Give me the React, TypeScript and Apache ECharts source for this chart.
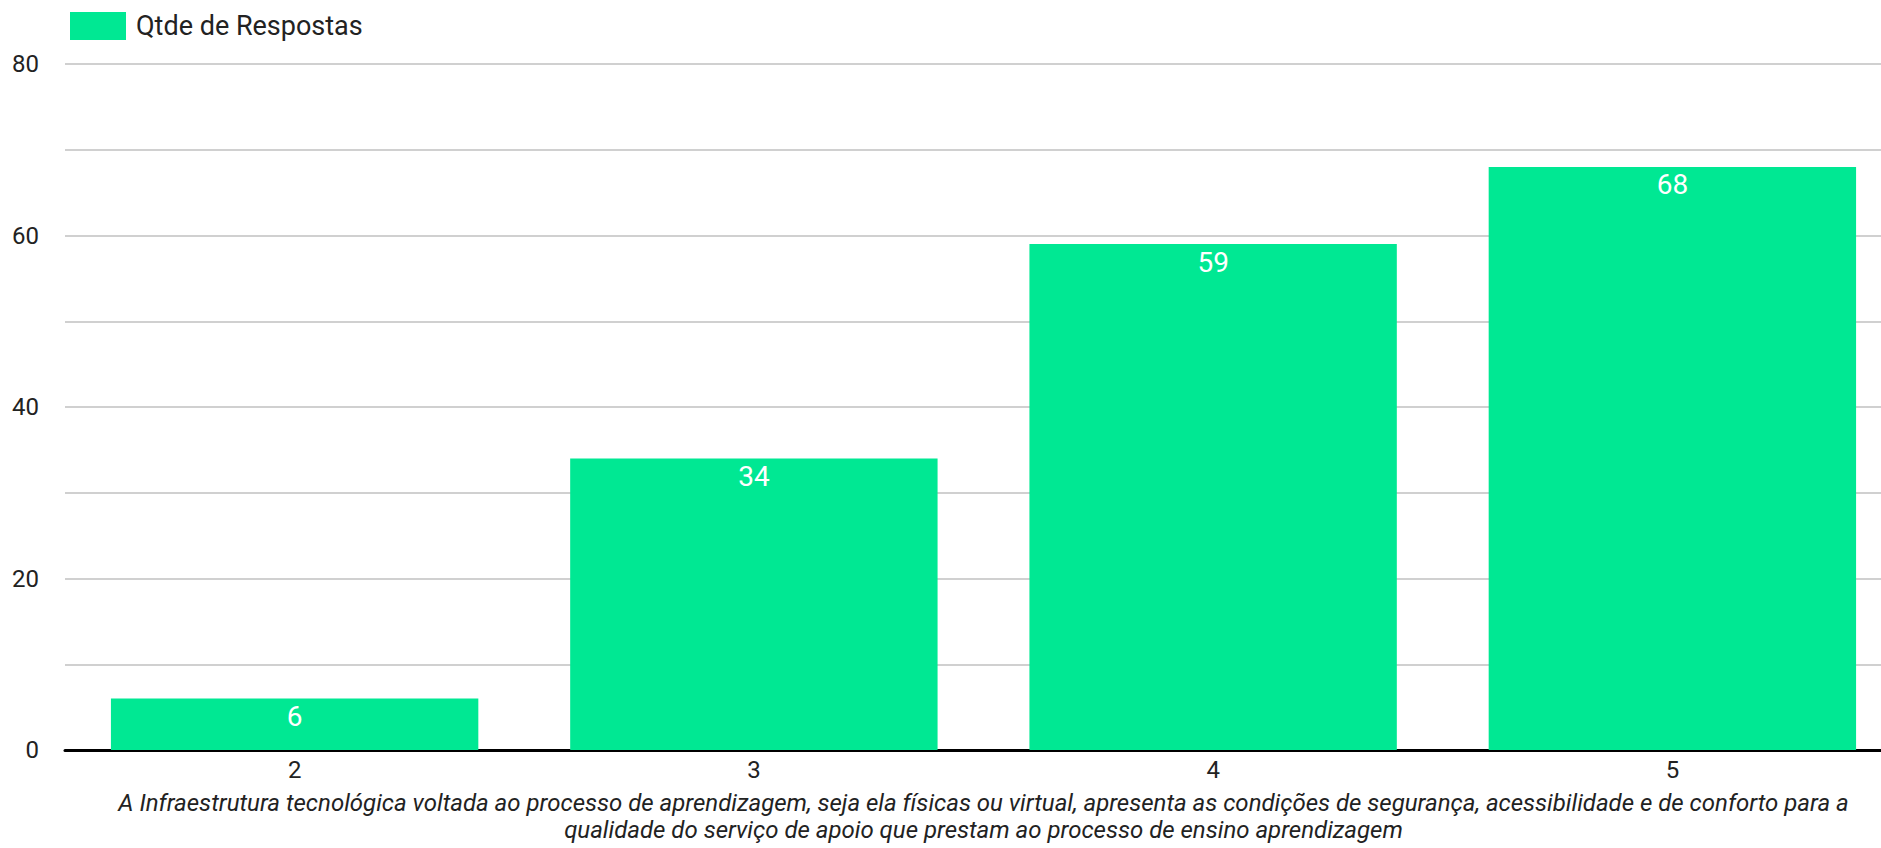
import React, { useEffect, useRef } from "react";
import * as echarts from "echarts";

const categories = ["2", "3", "4", "5"];
const respostas = [6, 34, 59, 68];
const seriesName = "Qtde de Respostas";
const axisTitle =
  "A Infraestrutura tecnológica voltada ao processo de aprendizagem, seja ela físicas ou virtual, apresenta as condições de segurança, acessibilidade e de conforto para a\nqualidade do serviço de apoio que prestam ao processo de ensino aprendizagem";

export default function App() {
  const ref = useRef<HTMLDivElement>(null);
  useEffect(() => {
    if (!ref.current) return;
    const chart = echarts.init(ref.current, null, { renderer: "svg" });
    chart.setOption({
      animation: false,
      textStyle: { fontFamily: "Roboto" },
      legend: {
        left: 65,
        top: 7,
        itemWidth: 56,
        itemHeight: 28,
        icon: "rect",
        textStyle: {
          fontFamily: "Roboto",
          fontSize: 27,
          color: "#222",
          padding: [0, 0, 0, 5],
        },
        data: [seriesName],
      },
      grid: {
        left: 65,
        right: 0,
        top: 64,
        bottom: 98,
        containLabel: false,
        outerBoundsMode: "none",
      },
      xAxis: {
        type: "category",
        data: categories,
        axisTick: { show: false },
        axisLine: { lineStyle: { color: "#000", width: 3 } },
        axisLabel: { fontFamily: "Roboto", fontSize: 24, color: "#222", margin: 8 },
        name: axisTitle,
        nameLocation: "middle",
        nameGap: 39,
        nameTextStyle: {
          fontFamily: "Roboto",
          fontStyle: "italic",
          fontSize: 24,
          lineHeight: 27,
          color: "#222",
        },
      },
      yAxis: {
        type: "value",
        min: 0,
        max: 80,
        interval: 10,
        axisLine: { show: false },
        axisTick: { show: false },
        splitLine: { lineStyle: { color: "#d0d0d0", width: 2 } },
        axisLabel: {
          fontFamily: "Roboto",
          fontSize: 24,
          color: "#222",
          margin: 26,
          formatter: (v: number) => (v % 20 === 0 ? String(v) : ""),
        },
      },
      series: [
        {
          name: seriesName,
          type: "bar",
          data: respostas,
          barCategoryGap: "20%",
          itemStyle: { color: "#00e893" },
          label: {
            show: true,
            position: "insideTop",
            distance: 4,
            color: "#fff",
            fontFamily: "Roboto",
            fontSize: 28,
          },
        },
      ],
    });
    return () => chart.dispose();
  }, []);
  return (
    <div
      style={{
        position: "fixed",
        left: 0,
        top: 0,
        width: 1881,
        height: 848,
        overflow: "hidden",
        background: "#fff",
      }}
    >
      <div ref={ref} style={{ width: 1902, height: 848 }} />
    </div>
  );
}
